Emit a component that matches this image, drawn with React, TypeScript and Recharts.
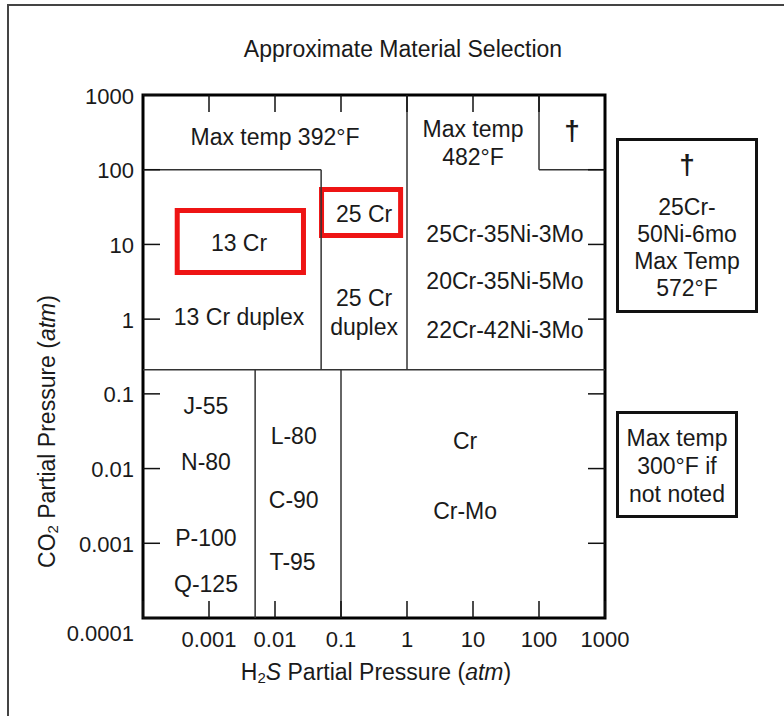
import React from "react";
import {
  ScatterChart,
  Scatter,
  XAxis,
  YAxis,
  ReferenceArea,
  ReferenceLine,
  Label,
} from "recharts";

const FONT = "'Liberation Sans', Arial, Helvetica, sans-serif";
const INK = "#1a1a1a";

// decade ticks shared by both axes (atm)
const AXIS_TICKS = [0.0001, 0.001, 0.01, 0.1, 1, 10, 100, 1000];
const TICK_LABELS = ["0.0001", "0.001", "0.01", "0.1", "1", "10", "100", "1000"];

// region boundaries: [x1, y1, x2, y2] in atm
const BOUNDARIES = [
  [0.0001, 0.21, 1000, 0.21],
  [0.0001, 100, 0.05, 100],
  [0.05, 0.21, 0.05, 100],
  [1, 0.21, 1, 1000],
  [100, 100, 100, 1000],
  [100, 100, 1000, 100],
  [0.005, 0.0001, 0.005, 0.21],
  [0.1, 0.0001, 0.1, 0.21],
];

// red highlight boxes: [x1, y1, x2, y2]
const HIGHLIGHTS = [
  [0.00033, 4.2, 0.027, 28.4],
  [0.0507, 13.2, 0.8, 54.3],
];

// material labels placed at (H2S, CO2)
const REGION_LABELS = [
  { x: 0.01, y: 270, text: "Max temp 392°F" },
  { x: 10, y: 350, text: "Max temp" },
  { x: 10, y: 148, text: "482°F" },
  { x: 316, y: 330, text: "†", big: true },
  { x: 0.00285, y: 10.5, text: "13 Cr" },
  { x: 0.224, y: 25.5, text: "25 Cr" },
  { x: 0.00285, y: 1.07, text: "13 Cr duplex" },
  { x: 0.224, y: 1.91, text: "25 Cr" },
  { x: 0.224, y: 0.78, text: "duplex" },
  { x: 30.5, y: 13.8, text: "25Cr-35Ni-3Mo" },
  { x: 30.5, y: 3.24, text: "20Cr-35Ni-5Mo" },
  { x: 30.5, y: 0.71, text: "22Cr-42Ni-3Mo" },
  { x: 0.0009, y: 0.0687, text: "J-55" },
  { x: 0.0009, y: 0.0122, text: "N-80" },
  { x: 0.0009, y: 0.00117, text: "P-100" },
  { x: 0.0009, y: 0.000284, text: "Q-125" },
  { x: 0.0192, y: 0.0272, text: "L-80" },
  { x: 0.0192, y: 0.0038, text: "C-90" },
  { x: 0.0185, y: 0.00056, text: "T-95" },
  { x: 7.6, y: 0.0233, text: "Cr" },
  { x: 7.6, y: 0.0027, text: "Cr-Mo" },
];

const NOTE_ALLOY = ["25Cr-", "50Ni-6mo", "Max Temp", "572°F"];
const NOTE_DEFAULT = ["Max temp", "300°F if", "not noted"];

const TICK_LEN = 17;

const labelFor = (v: number) => {
  const i = AXIS_TICKS.findIndex((t) => Math.abs(Math.log10(t) - Math.log10(v)) < 1e-6);
  return i >= 0 ? TICK_LABELS[i] : String(v);
};

const BottomTick = ({ x, y, payload }: any) => (
  <g>
    <line x1={x} y1={y} x2={x} y2={y - TICK_LEN} stroke="#111" strokeWidth={1.5} />
    {payload.value > 0.0002 && (
      <text x={x} y={y + 21} textAnchor="middle" dominantBaseline="central" fontSize={22} fill={INK} fontFamily={FONT}>
        {labelFor(payload.value)}
      </text>
    )}
  </g>
);

const TopTick = ({ x, y }: any) => (
  <line x1={x} y1={y} x2={x} y2={y + TICK_LEN} stroke="#111" strokeWidth={1.5} />
);

const LeftTick = ({ x, y, payload }: any) => (
  <g>
    <line x1={x} y1={y} x2={x + TICK_LEN} y2={y} stroke="#111" strokeWidth={1.5} />
    <text
      x={x - 9}
      y={payload.value < 0.0002 ? y + 15 : y + 1}
      textAnchor="end"
      dominantBaseline="central"
      fontSize={22}
      fill={INK}
      fontFamily={FONT}
    >
      {labelFor(payload.value)}
    </text>
  </g>
);

const RightTick = ({ x, y }: any) => (
  <line x1={x} y1={y} x2={x - TICK_LEN} y2={y} stroke="#111" strokeWidth={1.5} />
);

const RegionText = (props: any) => {
  const { cx, cy, payload } = props;
  return (
    <text
      x={cx}
      y={cy}
      textAnchor="middle"
      dominantBaseline="central"
      fontSize={payload.big ? 28 : 23}
      fontWeight={payload.big ? "bold" : "normal"}
      fill={INK}
      fontFamily={FONT}
    >
      {payload.text}
    </text>
  );
};

const XTitle = (props: any) => {
  const vb = props.viewBox || { x: 143, y: 618, width: 462 };
  const cx = vb.x + vb.width / 2 + 2;
  const cy = vb.y + 54;
  return (
    <text x={cx} y={cy} textAnchor="middle" dominantBaseline="central" fontSize={23} fill={INK} fontFamily={FONT}>
      H<tspan fontSize={15} dy={5}>2</tspan>
      <tspan dy={-5} fontStyle="italic">S</tspan> Partial Pressure (<tspan fontStyle="italic">atm</tspan>)
    </text>
  );
};

const YTitle = (props: any) => {
  const vb = props.viewBox || { x: 0, y: 95, height: 523 };
  const cx = vb.x + 47;
  const cy = vb.y + vb.height / 2 + 75;
  return (
    <text
      x={cx}
      y={cy}
      transform={`rotate(-90 ${cx} ${cy})`}
      textAnchor="middle"
      dominantBaseline="central"
      fontSize={23}
      fill={INK}
      fontFamily={FONT}
    >
      CO<tspan fontSize={15} dy={5}>2</tspan>
      <tspan dy={-5}> Partial Pressure (</tspan>
      <tspan fontStyle="italic">atm</tspan>)
    </text>
  );
};

export default function App() {
  return (
    <div
      style={{
        position: "absolute",
        left: 0,
        top: 0,
        width: 784,
        height: 716,
        overflow: "hidden",
        background: "#fff",
      }}
    >
      <ScatterChart width={784} height={716} margin={{ top: 65, right: 149, bottom: 38, left: 0 }}>
        <XAxis
          dataKey="x"
          type="number"
          scale="log"
          domain={[0.0001, 1000]}
          ticks={AXIS_TICKS}
          interval={0}
          allowDataOverflow
          height={60}
          axisLine={false}
          tickLine={false}
          tickSize={0}
          tickMargin={0}
          tick={<BottomTick />}
        >
          <Label content={<XTitle />} />
        </XAxis>
        <XAxis
          xAxisId="top"
          orientation="top"
          dataKey="x"
          type="number"
          scale="log"
          domain={[0.0001, 1000]}
          ticks={AXIS_TICKS.slice(1, -1)}
          interval={0}
          allowDataOverflow
          height={30}
          axisLine={false}
          tickLine={false}
          tickSize={0}
          tickMargin={0}
          tick={<TopTick />}
        />
        <YAxis
          dataKey="y"
          type="number"
          scale="log"
          domain={[0.0001, 1000]}
          ticks={AXIS_TICKS}
          interval={0}
          allowDataOverflow
          width={143}
          axisLine={false}
          tickLine={false}
          tickSize={0}
          tickMargin={0}
          tick={<LeftTick />}
        >
          <Label content={<YTitle />} />
        </YAxis>
        <YAxis
          yAxisId="right"
          orientation="right"
          dataKey="y"
          type="number"
          scale="log"
          domain={[0.0001, 1000]}
          ticks={AXIS_TICKS.slice(1, -1)}
          interval={0}
          allowDataOverflow
          width={30}
          axisLine={false}
          tickLine={false}
          tickSize={0}
          tickMargin={0}
          tick={<RightTick />}
        />
        {BOUNDARIES.map((b, i) => (
          <ReferenceLine
            key={`b-${i}`}
            segment={[
              { x: b[0], y: b[1] },
              { x: b[2], y: b[3] },
            ]}
            stroke="#333"
            strokeWidth={1.5}
            ifOverflow="visible"
          />
        ))}
        {HIGHLIGHTS.map((h, i) => (
          <ReferenceArea
            key={`h-${i}`}
            x1={h[0]}
            y1={h[1]}
            x2={h[2]}
            y2={h[3]}
            fill="none"
            stroke="#ee1414"
            strokeWidth={5}
            ifOverflow="visible"
          />
        ))}
        <ReferenceArea
          x1={0.0001}
          x2={1000}
          y1={0.0001}
          y2={1000}
          fill="none"
          stroke="#000"
          strokeWidth={3}
          ifOverflow="visible"
        />
        <Scatter data={REGION_LABELS} shape={<RegionText />} isAnimationActive={false} />
      </ScatterChart>
      <svg
        width={784}
        height={716}
        style={{ position: "absolute", left: 0, top: 0, pointerEvents: "none" }}
      >
        <rect x={8} y={5} width={900} height={900} fill="none" stroke="#444" strokeWidth={2} />
        <text x={403} y={49} textAnchor="middle" dominantBaseline="central" fontSize={23} fill={INK} fontFamily={FONT}>
          Approximate Material Selection
        </text>
        <rect x={617.5} y={139.5} width={139} height={172} fill="none" stroke="#111" strokeWidth={3} />
        <text x={687} y={164} textAnchor="middle" dominantBaseline="central" fontSize={28} fontWeight="bold" fill={INK} fontFamily={FONT}>
          †
        </text>
        {NOTE_ALLOY.map((t, i) => (
          <text key={t} x={687} y={207 + i * 27} textAnchor="middle" dominantBaseline="central" fontSize={23} fill={INK} fontFamily={FONT}>
            {t}
          </text>
        ))}
        <rect x={617.5} y={412.5} width={119} height={104} fill="none" stroke="#111" strokeWidth={3} />
        {NOTE_DEFAULT.map((t, i) => (
          <text key={t} x={677} y={438 + i * 28} textAnchor="middle" dominantBaseline="central" fontSize={23} fill={INK} fontFamily={FONT}>
            {t}
          </text>
        ))}
      </svg>
    </div>
  );
}
